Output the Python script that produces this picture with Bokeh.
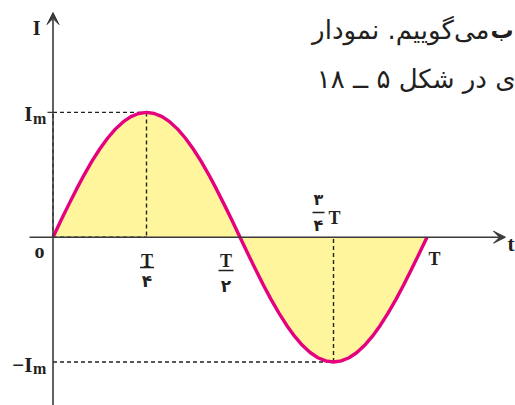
from bokeh.plotting import figure
from bokeh.models import Range1d, Arrow, VeeHead
from bokeh.core.properties import value
from bokeh.embed import file_html
from bokeh.resources import INLINE

# ---------------- data (time in units of T, current in units of Im) ----------------
time_T = [0, 0.0208, 0.0417, 0.0625, 0.0833, 0.1042, 0.125, 0.1458, 0.1667, 0.1875,
          0.2083, 0.2292, 0.25, 0.2708, 0.2917, 0.3125, 0.3333, 0.3542, 0.375, 0.3958,
          0.4167, 0.4375, 0.4583, 0.4792, 0.5, 0.5208, 0.5417, 0.5625, 0.5833, 0.6042,
          0.625, 0.6458, 0.6667, 0.6875, 0.7083, 0.7292, 0.75, 0.7708, 0.7917, 0.8125,
          0.8333, 0.8542, 0.875, 0.8958, 0.9167, 0.9375, 0.9583, 0.9792, 1.0]
current_Im = [0, 0.131, 0.259, 0.383, 0.5, 0.609, 0.707, 0.793, 0.866, 0.924,
              0.966, 0.991, 1.0, 0.991, 0.966, 0.924, 0.866, 0.793, 0.707, 0.609,
              0.5, 0.383, 0.259, 0.131, 0, -0.131, -0.259, -0.383, -0.5, -0.609,
              -0.707, -0.793, -0.866, -0.924, -0.966, -0.991, -1.0, -0.991, -0.966, -0.924,
              -0.866, -0.793, -0.707, -0.609, -0.5, -0.383, -0.259, -0.131, 0]
peak_t, peak_I = 0.25, 1.0
trough_t, trough_I = 0.75, -1.0
tick_quarter, tick_half, tick_three_quarter, tick_full = 0.25, 0.5, 0.75, 1.0
persian_bold = "ب"
persian_line1 = "می‌گوییم. نمودار"
persian_line2 = "ی در شکل ۵ ــ ۱۸"

# ---------------- layout helpers (reference pixel -> data) ----------------
W, H = 515, 405
X0, Y0 = 52.5, 236.7      # origin in canvas pixels
TPX, IPX = 374.0, 124.8   # pixels per T, pixels per Im


def dx(rx):
    return (rx - X0) / TPX


def dy(ry):
    return (Y0 - ry) / IPX


p = figure(width=W, height=H, x_range=Range1d(dx(0), dx(W)),
           y_range=Range1d(dy(H), dy(0)), output_backend="svg",
           toolbar_location=None, min_border=0, x_axis_location=None,
           y_axis_location=None)
p.xgrid.visible = False
p.ygrid.visible = False
p.outline_line_color = None
p.background_fill_color = "white"

AXIS = "#3a3a3a"
DASH = "#222222"
PINK = "#e5007e"
FILL = "#fff59c"
TXT = "#231f20"

# fill between curve and axis
p.varea(x=time_T, y1=[0] * len(time_T), y2=current_Im, fill_color=FILL)

# axes with arrows
p.add_layout(Arrow(x_start=0, y_start=dy(405), x_end=0, y_end=dy(12),
                   line_color=AXIS, line_width=1.6,
                   end=VeeHead(size=12, fill_color=AXIS, line_color=AXIS, line_width=1)))
p.add_layout(Arrow(x_start=dx(29), y_start=0, x_end=dx(505), y_end=0,
                   line_color=AXIS, line_width=1.6,
                   end=VeeHead(size=12, fill_color=AXIS, line_color=AXIS, line_width=1)))

# dashed guide lines
dash_kw = dict(line_color=DASH, line_width=1.4, line_dash="4 3")
p.segment(x0=[0, peak_t, 0, 0, 0, trough_t],
          y0=[peak_I, peak_I, 0, 0, trough_I, trough_I],
          x1=[peak_t, peak_t, peak_t, 0, trough_t, trough_t],
          y1=[peak_I, 0, 0, peak_I, trough_I, 0], **dash_kw)
# small tick at Im
p.segment(x0=[dx(47)], y0=[peak_I], x1=[0], y1=[peak_I], line_color=AXIS, line_width=1.3)

# curve
p.line(x=time_T, y=current_Im, line_color=PINK, line_width=3.4, line_join="round")


def txt(rx, ry, s, size, font="Liberation Serif", bold=True, align="center",
        baseline="alphabetic", color=TXT):
    p.text(x=[rx], y=[ry], text=[s], text_font=value(font),
           text_font_size=f"{size}px", text_font_style="bold" if bold else "normal",
           text_align=align, text_baseline=baseline, text_color=color)


def bar(x0, x1, y):
    p.segment(x0=[x0], y0=[y], x1=[x1], y1=[y], line_color=TXT, line_width=1.6)


FA = "DejaVu Sans"
# axis labels
txt(dx(40), dy(27), "I", 20, align="right")
txt(dx(507), dy(243), "t", 21, align="left")
txt(dx(39), dy(250), "o", 20)
# Im and -Im
txt(dx(32), dy(113), "I", 21, align="right")
txt(dx(32.5), dy(118), "m", 16, align="left")
txt(dx(32), dy(364), "−I", 21, align="right")
txt(dx(32.5), dy(368), "m", 16, align="left")

# T/4
txt(tick_quarter + 0.5 / TPX, dy(260), "T", 18)
bar(tick_quarter - 6.5 / TPX, tick_quarter + 7.5 / TPX, dy(267))
txt(tick_quarter + 0.5 / TPX, dy(280), "۴", 17, font=FA, baseline="middle")
# T/2
txt(tick_half - 14 / TPX, dy(260), "T", 18)
bar(tick_half - 21.5 / TPX, tick_half - 6.5 / TPX, dy(270))
txt(tick_half - 14 / TPX, dy(285), "۲", 17, font=FA, baseline="middle")
# 3T/4
txt(tick_three_quarter - 15 / TPX, dy(199), "۳", 16, font=FA, baseline="middle")
bar(tick_three_quarter - 21 / TPX, tick_three_quarter - 9 / TPX, dy(212))
txt(tick_three_quarter - 15 / TPX, dy(224.5), "۴", 16, font=FA, baseline="middle")
txt(tick_three_quarter - 5 / TPX, dy(217), "T", 18, align="left")
# T
txt(tick_full + 1.5 / TPX, dy(258), "T", 18, align="left")

# Persian body text (cropped page text)
txt(dx(513), dy(29), persian_bold, 23, font=FA, bold=True, align="right")
txt(dx(489), dy(29), persian_line1, 26, font=FA, bold=False, align="right")
txt(dx(515), dy(78), persian_line2, 26, font=FA, bold=False, align="right")

open("out.html", "w").write(file_html(p, INLINE))
